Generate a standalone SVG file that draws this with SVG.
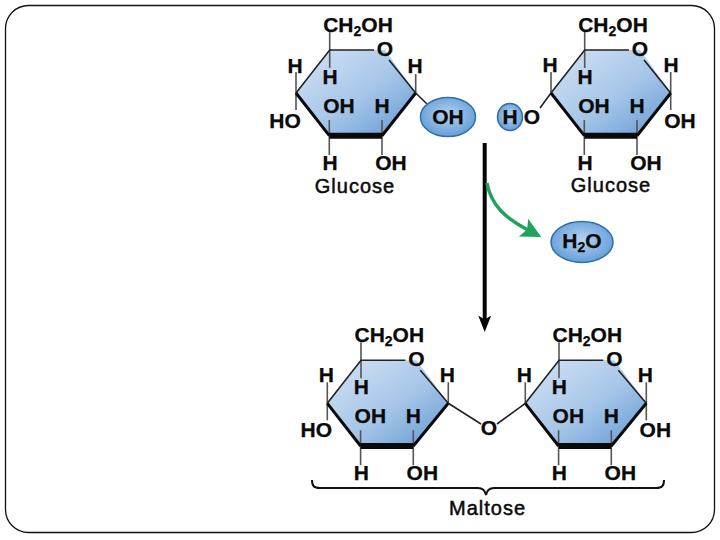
<svg xmlns="http://www.w3.org/2000/svg" width="720" height="540" viewBox="0 0 720 540">
<style>
text{font-family:"Liberation Sans",Arial,sans-serif;fill:#0a0a0a;text-anchor:middle}
.a{font-size:21px;font-weight:bold;stroke:#0a0a0a;stroke-width:.25}
.s{font-size:14px;font-weight:bold}
.l{font-size:20px;stroke:#0a0a0a;stroke-width:.5;letter-spacing:1px}
.ring{fill:url(#rg);stroke:none}
.thin{fill:none;stroke:#222;stroke-width:1.6}
.gray{fill:none;stroke:#555;stroke-width:1.6}
.brace{fill:none;stroke:#111;stroke-width:2}
.e{fill:url(#eg);stroke:#2f6ea8;stroke-width:1.5}
.hl{fill:none;stroke:#0a0a0a;stroke-linejoin:round}
</style>
<defs>
<linearGradient id="rg" x1="0" y1="0" x2="1" y2="1"><stop offset="0" stop-color="#d5e4f5"/><stop offset=".55" stop-color="#a5c5e8"/><stop offset="1" stop-color="#5f97d3"/></linearGradient>
<radialGradient id="eg" cx=".5" cy=".45" r=".6"><stop offset="0" stop-color="#b5d3f0"/><stop offset="1" stop-color="#5e9ad6"/></radialGradient>
<marker id="ga" markerUnits="userSpaceOnUse" markerWidth="24" markerHeight="22" refX="5" refY="10" orient="auto"><path d="M0 0 L20 10 L0 20 L4 10Z" fill="#1fa35c"/></marker>
<marker id="ba" markerUnits="userSpaceOnUse" markerWidth="16" markerHeight="20" refX="6.5" refY="6.5" orient="0"><path d="M0 0 L6.500 4 L13 0 L6.500 16.500Z" fill="#050505"/></marker>
</defs>
<rect x="5.500" y="5.500" width="709" height="527" rx="23" fill="#fff" stroke="#111" stroke-width="1.300"/>

<g id="connectors">
<path d="M415.700 93 L427 104" class="thin"/>
<path d="M551 93 L540 108" class="thin"/>
<path d="M448.300 403.300 L481 424" class="thin"/>
<path d="M525.300 403.300 L497 424" class="thin"/>
<path d="M484.700 143 V322" stroke="#050505" stroke-width="4" fill="none" marker-end="url(#ba)"/>
<path d="M487 183 C491 205 505 218 528 230" stroke="#1fa35c" stroke-width="3.500" fill="none" marker-end="url(#ga)"/>
<path d="M312 480 C312 486 314 488 320 488 H478 C482 488 485 490 486 495 C487 490 490 488 494 488 H656 C662 488 664 486 664 480" class="brace"/>
</g>

<g id="glucose-left">
<path d="M329.700 50 H385 L415.700 93 L382 135.700 H329.300 L296 93Z" class="ring"/>
<path d="M329.700 32 V50 M329.700 50 V68 M296 72 V93 V110 M329.300 120 V155 M382 120 V155 M415.700 74 V93" class="gray"/>
<path d="M296 93 L329.700 50 H374 M389 60 L415.700 93" class="thin"/>
<path d="M296 93 L329.300 135.700" class="hl" stroke-width="3"/>
<path d="M329.300 135.700 H382" class="hl" stroke-width="6"/>
<path d="M382 135.700 L415.700 93" class="hl" stroke-width="3"/>
<text x="358" y="32" class="a">CH<tspan class="s" dy="4">2</tspan><tspan dy="-4">OH</tspan></text>
<text x="385" y="56" class="a">O</text>
<text x="295" y="73" class="a">H</text>
<text x="330" y="84" class="a">H</text>
<text x="415" y="73" class="a">H</text>
<text x="339" y="113" class="a">OH</text>
<text x="382" y="113" class="a">H</text>
<text x="285" y="128" class="a">HO</text>
<text x="330" y="170" class="a">H</text>
<text x="391" y="170" class="a">OH</text>
<text x="355" y="193" class="l">Glucose</text>
</g>

<g id="oh-ellipse">
<ellipse cx="448" cy="117" rx="27.500" ry="19.500" class="e"/>
<text x="448" y="124" class="a">OH</text>
</g>
<g id="h-ellipse">
<ellipse cx="510" cy="117" rx="12.500" ry="13.500" class="e"/>
<text x="510" y="124" class="a">H</text>
</g>
<text x="532" y="124" class="a">O</text>

<g id="glucose-right" transform="translate(255 0)">
<path d="M329.700 50 H385 L415.700 93 L382 135.700 H329.300 L296 93Z" class="ring"/>
<path d="M329.700 32 V50 M329.700 50 V68 M296 72 V93 M415.700 93 V110 M329.300 120 V155 M382 120 V155 M415.700 72 V93" class="gray"/>
<path d="M296 93 L329.700 50 H374 M389 60 L415.700 93" class="thin"/>
<path d="M296 93 L329.300 135.700" class="hl" stroke-width="3"/>
<path d="M329.300 135.700 H382" class="hl" stroke-width="6"/>
<path d="M382 135.700 L415.700 93" class="hl" stroke-width="3"/>
<text x="358" y="32" class="a">CH<tspan class="s" dy="4">2</tspan><tspan dy="-4">OH</tspan></text>
<text x="385" y="56" class="a">O</text>
<text x="295" y="72" class="a">H</text>
<text x="330" y="84" class="a">H</text>
<text x="416" y="72" class="a">H</text>
<text x="339" y="113" class="a">OH</text>
<text x="382" y="113" class="a">H</text>
<text x="425" y="128" class="a">OH</text>
<text x="330" y="170" class="a">H</text>
<text x="391" y="170" class="a">OH</text>
<text x="356" y="192" class="l">Glucose</text>
</g>

<g id="water">
<ellipse cx="582" cy="242" rx="31" ry="20.500" class="e"/>
<text x="582" y="248" class="a">H<tspan class="s" dy="4">2</tspan><tspan dy="-4">O</tspan></text>
</g>

<g id="maltose-left" transform="translate(31.300 310.300)">
<path d="M329.700 50 H385 L417 93 L382 135.700 H329.300 L296 93Z" class="ring"/>
<path d="M329.700 32 V50 M329.700 50 V68 M296 72 V93 V110 M329.300 120 V155 M382 120 V155 M417 72 V93" class="gray"/>
<path d="M296 93 L329.700 50 H374 M389 60 L417 93" class="thin"/>
<path d="M296 93 L329.300 135.700" class="hl" stroke-width="3"/>
<path d="M329.300 135.700 H382" class="hl" stroke-width="6"/>
<path d="M382 135.700 L417 93" class="hl" stroke-width="3"/>
<text x="358" y="32" class="a">CH<tspan class="s" dy="4">2</tspan><tspan dy="-4">OH</tspan></text>
<text x="385" y="56" class="a">O</text>
<text x="295" y="72" class="a">H</text>
<text x="330" y="84" class="a">H</text>
<text x="416" y="72" class="a">H</text>
<text x="339" y="113" class="a">OH</text>
<text x="382" y="113" class="a">H</text>
<text x="285" y="127" class="a">HO</text>
<text x="330" y="170" class="a">H</text>
<text x="391" y="170" class="a">OH</text>
</g>

<g id="bridge-o"><text x="489" y="435" class="a">O</text></g>

<g id="maltose-right" transform="translate(229.300 310.300)">
<path d="M329.700 50 H385 L417 93 L382 135.700 H329.300 L296 93Z" class="ring"/>
<path d="M329.700 32 V50 M329.700 50 V68 M296 72 V93 M417 72 V110 M329.300 120 V155 M382 120 V155" class="gray"/>
<path d="M296 93 L329.700 50 H374 M389 60 L417 93" class="thin"/>
<path d="M296 93 L329.300 135.700" class="hl" stroke-width="3"/>
<path d="M329.300 135.700 H382" class="hl" stroke-width="6"/>
<path d="M382 135.700 L417 93" class="hl" stroke-width="3"/>
<text x="358" y="32" class="a">CH<tspan class="s" dy="4">2</tspan><tspan dy="-4">OH</tspan></text>
<text x="385" y="56" class="a">O</text>
<text x="295" y="72" class="a">H</text>
<text x="330" y="84" class="a">H</text>
<text x="416" y="72" class="a">H</text>
<text x="339" y="113" class="a">OH</text>
<text x="382" y="113" class="a">H</text>
<text x="426" y="127" class="a">OH</text>
<text x="330" y="170" class="a">H</text>
<text x="391" y="170" class="a">OH</text>
</g>

<text x="487.500" y="515" class="l" id="maltose-label">Maltose</text>
</svg>
